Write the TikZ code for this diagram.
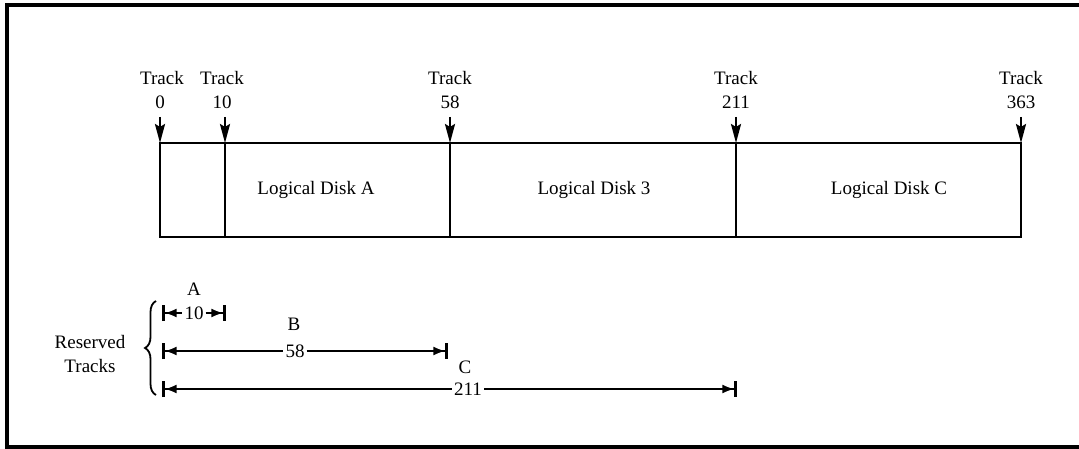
\documentclass[tikz,border=0pt]{standalone}
\usepackage{fontspec}
\setmainfont{Liberation Serif}
\usetikzlibrary{arrows.meta,decorations.pathreplacing}
\begin{document}
\begin{tikzpicture}[x=1pt,y=-1pt,
  every node/.style={font=\fontsize{19}{24}\selectfont},
  frameline/.style={line width=3.2pt},
  boxline/.style={line width=2.8pt},
  trackarrow/.style={line width=2.4pt,-{Stealth[length=19pt,width=10pt,inset=3pt]}},
  tracklbl/.style={anchor=base,align=center,inner sep=0pt},
  numlbl/.style={inner sep=2pt},
  dimL/.style={line width=2.6pt,{Bar[width=16pt,line width=2.6pt]Latex[length=12pt,width=9pt]}-},
  dimR/.style={line width=2.6pt,-{Latex[length=12pt,width=9pt]Bar[width=16pt,line width=2.6pt]}},
  disklbl/.style={inner sep=0pt}
]
\useasboundingbox (0,0) rectangle (1079,449);
% outer frame
\draw[frameline] (1082,5) -- (7,5) -- (7,447) -- (1082,447);
% main box
\coordinate (tl) at (160,143);
\coordinate (br) at (1021,237);
\draw[boxline] (tl) rectangle (br);
\foreach \x/\n in {225/t10,450/t58,736/t211}{
  \coordinate (\n top) at (\x,143);
  \coordinate (\n bot) at (\x,237);
  \draw[boxline] (\n top) -- (\n bot);
}
\coordinate (t0top) at (160,143);
\coordinate (t363top) at (1021,143);
% track labels
\node[tracklbl] (lt0) at (162,85) {Track};
\node[tracklbl] (nt0) at (160,109) {0};
\node[tracklbl] (lt10) at (222,85) {Track};
\node[tracklbl] (nt10) at (222,109) {10};
\node[tracklbl] (lt58) at (450,85) {Track};
\node[tracklbl] (nt58) at (450,109) {58};
\node[tracklbl] (lt211) at (736,85) {Track};
\node[tracklbl] (nt211) at (736,109) {211};
\node[tracklbl] (lt363) at (1021,85) {Track};
\node[tracklbl] (nt363) at (1021,109) {363};
% track arrows
\coordinate (a0) at (160,117);
\coordinate (a10) at (225,117);
\coordinate (a58) at (450,117);
\coordinate (a211) at (736,117);
\coordinate (a363) at (1021,117);
\draw[trackarrow] (a0) -- (t0top);
\draw[trackarrow] (a10) -- (t10top);
\draw[trackarrow] (a58) -- (t58top);
\draw[trackarrow] (a211) -- (t211top);
\draw[trackarrow] (a363) -- (t363top);
% disk labels
\node[disklbl] (dA) at (316,190) {Logical Disk A};
\node[disklbl] (d3) at (594,190) {Logical Disk 3};
\node[disklbl] (dC) at (889,190) {Logical Disk C};
% reserved tracks
\node[align=center,inner sep=0pt] (res) at (90,354) {Reserved\\Tracks};
\coordinate (brb) at (156,395);
\coordinate (brt) at (156,301);
\draw[line width=1.8pt,decorate,decoration={brace,amplitude=11pt}] (brb) -- (brt);
% A
\node[anchor=base,inner sep=0pt] (lA) at (194,295) {A};
\node[numlbl] (nA) at (194,313) {10};
\coordinate (A1) at (162,313);
\coordinate (A2) at (226,313);
\draw[dimL] (A1) -- (nA.west);
\draw[dimR] (nA.east) -- (A2);
% B
\node[anchor=base,inner sep=0pt] (lB) at (294,330) {B};
\node[numlbl] (nB) at (295,351) {58};
\coordinate (B1) at (162,351);
\coordinate (B2) at (448,351);
\draw[dimL] (B1) -- (nB.west);
\draw[dimR] (nB.east) -- (B2);
% C
\node[anchor=base,inner sep=0pt] (lC) at (465,373) {C};
\node[numlbl] (nC) at (468,389) {211};
\coordinate (C1) at (162,389);
\coordinate (C2) at (737,389);
\draw[dimL] (C1) -- (nC.west);
\draw[dimR] (nC.east) -- (C2);
\end{tikzpicture}
\end{document}
